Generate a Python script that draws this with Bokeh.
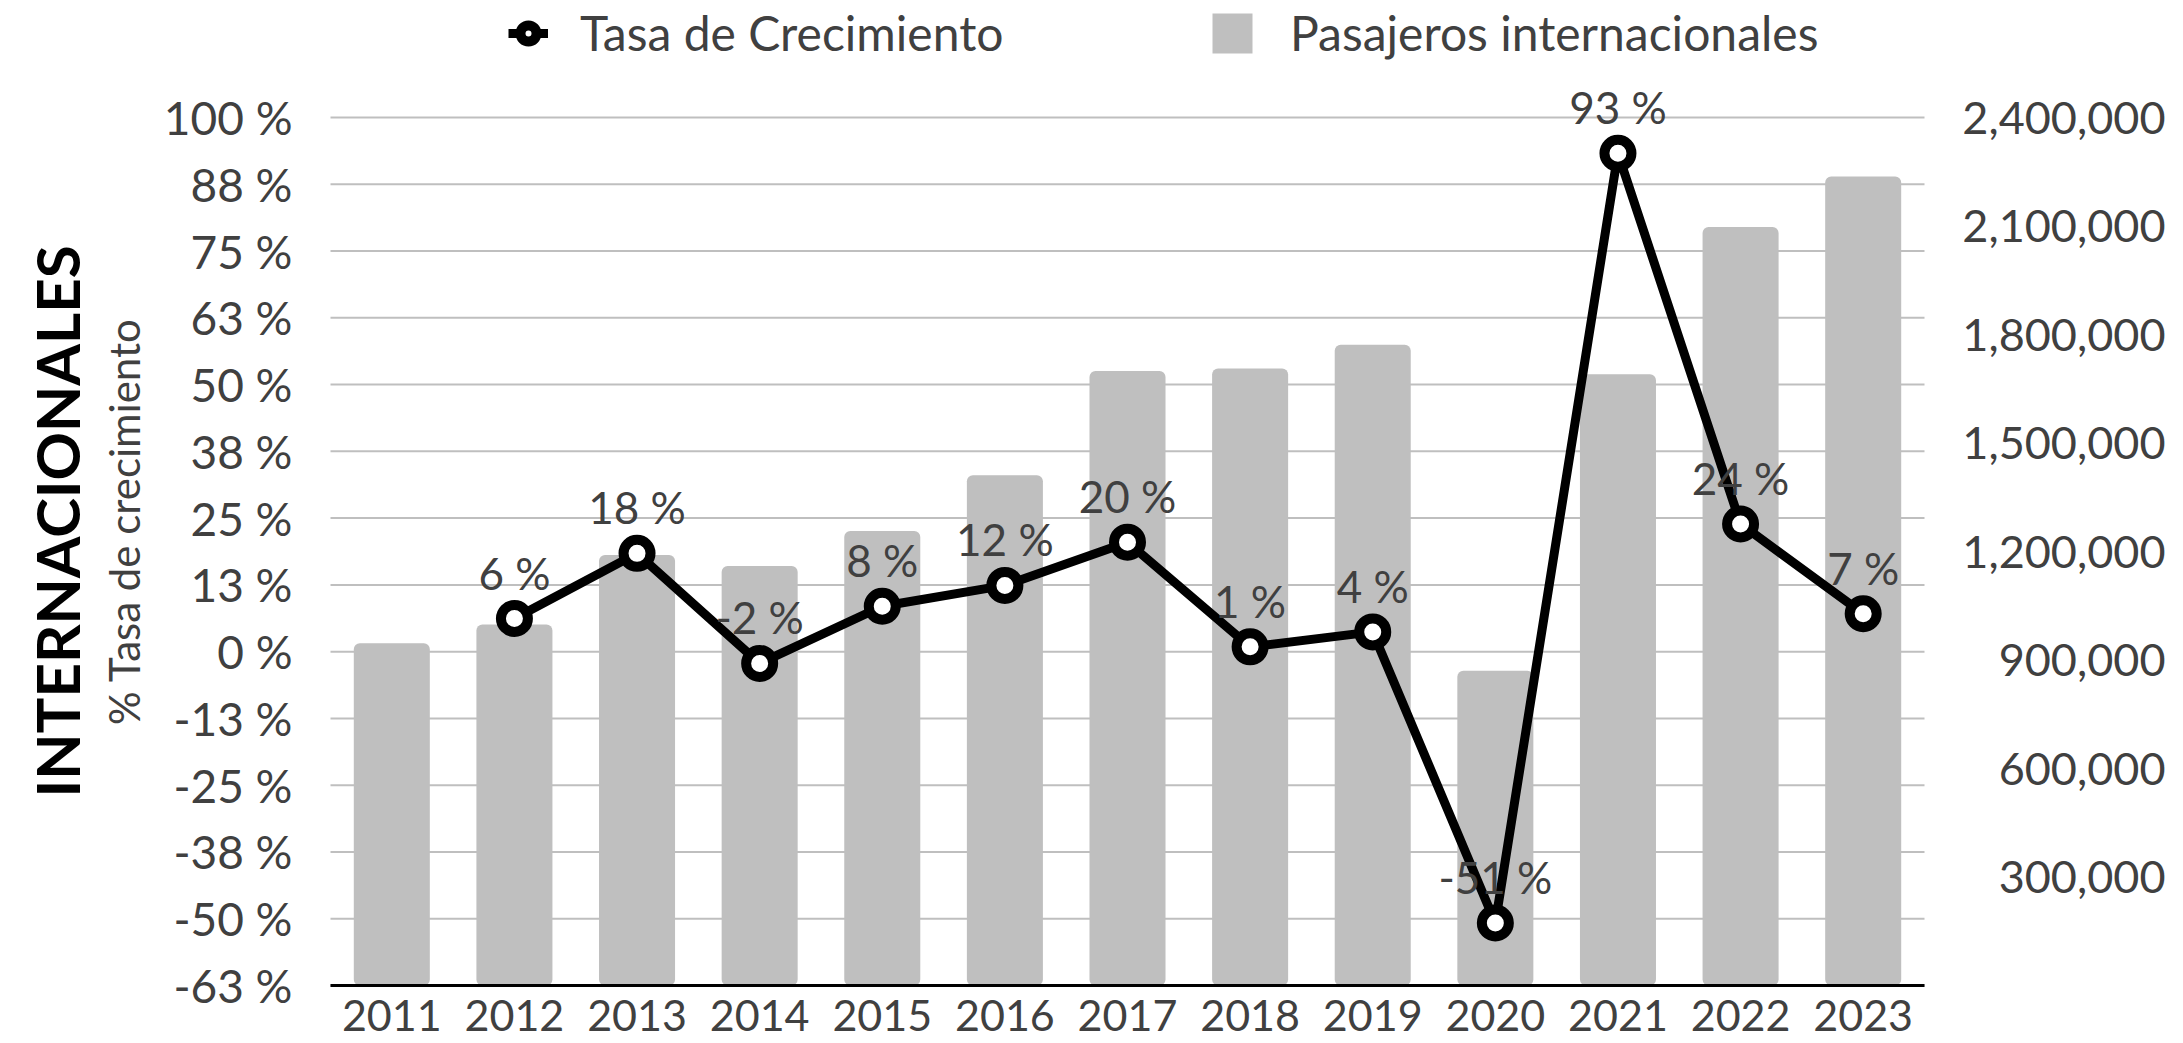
import math
from bokeh.plotting import figure
from bokeh.models import (ColumnDataSource, Range1d, LabelSet, Label, Legend, LegendItem)
from bokeh.core.properties import value
from bokeh.embed import file_html
from bokeh.resources import INLINE

# ---------------- data ----------------
years = [2011, 2012, 2013, 2014, 2015, 2016, 2017, 2018, 2019, 2020, 2021, 2022, 2023]
year_labels = ["2011", "2012", "2013", "2014", "2015", "2016", "2017",
               "2018", "2019", "2020", "2021", "2022", "2023"]
passengers = [946000, 998000, 1190000, 1160000, 1257000, 1411000, 1699000,
              1706000, 1772000, 870000, 1690000, 2097000, 2237000]
growth_years = [2012, 2013, 2014, 2015, 2016, 2017, 2018, 2019, 2020, 2021, 2022, 2023]
growth = [6.2, 18.4, -2.2, 8.5, 12.4, 20.5, 0.9, 3.7, -50.8, 93.3, 23.9, 7.1]
growth_labels = ["6 %", "18 %", "-2 %", "8 %", "12 %", "20 %",
                 "1 %", "4 %", "-51 %", "93 %", "24 %", "7 %"]
left_ticks = [100.0, 87.5, 75.0, 62.5, 50.0, 37.5, 25.0, 12.5, 0.0,
              -12.5, -25.0, -37.5, -50.0, -62.5]
left_tick_labels = ["100 %", "88 %", "75 %", "63 %", "50 %", "38 %", "25 %",
                    "13 %", "0 %", "-13 %", "-25 %", "-38 %", "-50 %", "-63 %"]
right_ticks = [300000, 600000, 900000, 1200000, 1500000, 1800000, 2100000, 2400000]
right_tick_labels = ["300,000", "600,000", "900,000", "1,200,000", "1,500,000",
                     "1,800,000", "2,100,000", "2,400,000"]

# ---------------- layout / style ----------------
FONT = "Lato"
GRAY = "#404040"
BAR = "#bfbfbf"
W, H = 2183, 1043                      # canvas size
PL, PR, PT, PB = 330, 1924, 117, 985   # plot area inside canvas (px)

lo, hi = left_ticks[-1], left_ticks[0]
x0, x1 = years[0] - 0.5, years[-1] + 0.5
pxx = (PR - PL) / (x1 - x0)
pxy = (PB - PT) / (hi - lo)
x_start, x_end = x0 - PL / pxx, x1 + (W - PR) / pxx
y_start, y_end = lo - (H - PB) / pxy, hi + PT / pxy
r_max = right_ticks[-1]
r_scale = r_max / (hi - lo)

bar_src = ColumnDataSource(dict(year=years, pax=passengers))
line_src = ColumnDataSource(dict(year=growth_years, rate=growth, lbl=growth_labels))
lt_src = ColumnDataSource(dict(v=left_ticks, t=left_tick_labels))
rt_src = ColumnDataSource(dict(v=right_ticks, t=right_tick_labels))
yr_src = ColumnDataSource(dict(year=years, t=year_labels))

p = figure(x_range=Range1d(x_start, x_end), y_range=Range1d(y_start, y_end),
           frame_width=W, frame_height=H, min_border=0,
           x_axis_type=None, y_axis_type=None,
           output_backend="svg", toolbar_location=None)
p.extra_y_ranges = {"right": Range1d((y_start - lo) * r_scale, (y_end - lo) * r_scale)}
p.outline_line_color = None
p.background_fill_color = "white"

# gridlines on the left-axis ticks
p.segment(x0=x0, x1=x1, y0="v", y1="v", source=lt_src, line_color=BAR, line_width=2)

bar_r = p.vbar(x="year", top="pax", bottom=0, width=0.62, source=bar_src,
               y_range_name="right", fill_color=BAR, line_color=None,
               border_radius=6)

# x axis line
p.segment(x0=[x0], x1=[x1], y0=[lo], y1=[lo], line_color="black", line_width=3)

line_r = p.line(x="year", y="rate", source=line_src, line_color="black", line_width=9)
scat_r = p.scatter(x="year", y="rate", source=line_src, size=27, marker="circle",
                   fill_color="white", line_color="black", line_width=10)

# left tick labels
p.add_layout(LabelSet(x=x0, y="v", text="t", source=lt_src, x_offset=-38,
                      text_align="right", text_baseline="middle",
                      text_font=value(FONT), text_font_size="46px", text_color=GRAY))
# right tick labels
p.add_layout(LabelSet(x=x1, y="v", text="t", source=rt_src, x_offset=241,
                      y_range_name="right", text_align="right", text_baseline="middle",
                      text_font=value(FONT), text_font_size="45px", text_color=GRAY))
# category labels
p.add_layout(LabelSet(x="year", y=lo, text="t", source=yr_src, y_offset=-30,
                      text_align="center", text_baseline="middle",
                      text_font=value(FONT), text_font_size="43px", text_color=GRAY))
# data labels
p.add_layout(LabelSet(x="year", y="rate", text="lbl", source=line_src, y_offset=46,
                      text_align="center", text_baseline="middle",
                      text_font=value(FONT), text_font_size="44px", text_color=GRAY))

# axis titles
p.add_layout(Label(x=56, y=522, x_units="screen", y_units="screen",
                   text="INTERNACIONALES", angle=math.pi / 2, text_align="center",
                   text_baseline="middle", text_font=FONT, text_font_size="60px",
                   text_font_style="bold", text_color="black"))
p.add_layout(Label(x=123, y=522, x_units="screen", y_units="screen",
                   text="% Tasa de crecimiento", angle=math.pi / 2, text_align="center",
                   text_baseline="middle", text_font=FONT, text_font_size="42px",
                   text_color=GRAY))

# legends
def mk_legend(items, loc, gw, gh, standoff):
    return Legend(items=items, location=loc, orientation="horizontal",
                  padding=0, margin=0, border_line_color=None,
                  background_fill_alpha=0, glyph_width=gw, glyph_height=gh,
                  label_height=gh, label_standoff=standoff,
                  label_text_font=FONT, label_text_font_size="48px",
                  label_text_color=GRAY)

p.add_layout(mk_legend([LegendItem(label="Tasa de Crecimiento", renderers=[line_r, scat_r])],
                       (508, 982), 40, 50, 32))
p.add_layout(mk_legend([LegendItem(label="Pasajeros internacionales", renderers=[bar_r])],
                       (1207, 982), 50, 50, 33))

open("out.html", "w").write(file_html(p, INLINE))
